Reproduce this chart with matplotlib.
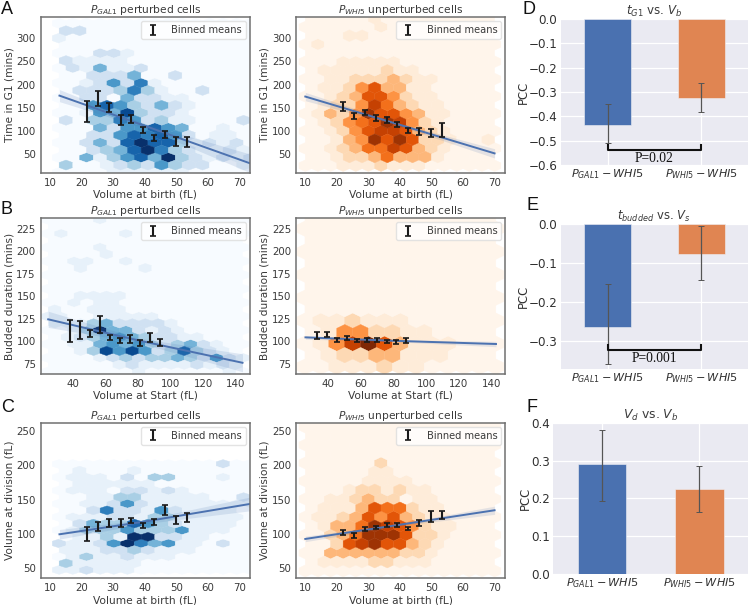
import matplotlib
matplotlib.use('Agg')
import matplotlib.pyplot as plt
import numpy as np

W, H = 748, 605
TEXT = '#3a3a3a'

# hexbin levels, one string per lattice row, top row first. missing cells are 0
hex_a_gal = ["0", "22", "1", "0", "000221", "21111", "021411200", "00222400200",
             "001252610", "02223631002", "002204221100", "00575324210", "001548322100",
             "20336523110002", "000425575400100", "00225767520110", "002427977312120",
             "00234796321121", "004135749321212", "30012325322001", "000011111100000"]
hex_a_whi = ["0", "000001", "0000001", "00011", "01", "0", "0001111100", "011111211",
             "0011222321100000", "011246331100000", "0012366421100000", "012247532110000",
             "0132486643110000", "012456874210000", "0012467763210000", "001348686221001",
             "0012355763210000", "001223533310000", "0001112111000000"]
hex_b_gal = ["00001", "0", "010000100", "0", "00001", "000010", "0011001", "00100001", "0", "0",
             "0", "001111", "00101100", "100111", "1100111110000000", "111342222100000",
             "0013944212100000", "012345432211000", "0011454532342100", "001385852373210",
             "0000123233432521", "000001211112121", "0000000100000010"]
hex_b_whi = ["0", "0", "0", "0", "0", "0", "0", "0", "0", "0",
             "0112111000000", "014422110000", "0147963111000", "012233111000", "0011121100000"]
hex_c_gal = ["000000000000200", "01000100000000", "011102033000100", "01111110000000",
             "011102212100000", "00113311111002", "001125211111111", "00262215211110",
             "011122133111110", "02433753211110", "013335333511100", "01131992211000",
             "211259645110200", "11122321110000", "013112111000000", "31111100000000",
             "112111000000000"]
hex_c_whi = ["0", "0", "0", "0", "0", "0", "0000002", "000001100", "0000011110",
             "000122121100000", "0011232201100000", "011136552110000", "0112364632110000",
             "013358764211000", "0023588862210000", "002678663210000", "0033333322100000",
             "011112211100000", "0"]
# colour strength of each level
level_shade = [0, 0.08, 0.2, 0.34, 0.48, 0.6, 0.7, 0.8, 0.9, 1]

# binned means
bin_birth_gal = [21.7, 25.3, 28.8, 32.4, 35.8, 39.4, 42.9, 46.4, 49.8, 53.3]
bin_birth_whi = [21.8, 25.3, 28.8, 32.3, 35.8, 39.2, 42.7, 46.2, 49.7, 53.2]
bin_start_gal = [38.6, 44.5, 50.6, 56.7, 62.7, 69, 75.1, 81.2, 87.1, 93.3]
bin_start_whi = [33.1, 39.2, 45.3, 51.4, 57.6, 63.7, 69.6, 75.7, 81.6, 87.8]

mean_a_gal = [142.5, 169.5, 150.5, 123.5, 126, 102.5, 85, 92, 76.5, 76.5]
err_a_gal = [22.5, 15.5, 10.5, 10.5, 8, 6.5, 6, 8, 9.5, 10.5]
mean_a_whi = [152.7, 131.4, 139.3, 128, 124, 113.7, 100.8, 98, 95.8, 102.6]
err_a_whi = [9, 6.5, 5.7, 6, 6.5, 4.7, 4.7, 7.6, 9, 15]
mean_b_gal = [111.6, 112.7, 108.8, 118.8, 104.1, 101.2, 102.3, 98.2, 104.5, 98.4]
err_b_gal = [12.1, 9.8, 3.7, 9.3, 2.8, 2.8, 4.6, 3.2, 5, 3.7]
mean_b_whi = [106.2, 107.5, 101.4, 103.6, 100.8, 101.4, 101.4, 99.9, 99, 100.8]
err_b_whi = [3.7, 2.4, 1.9, 2.2, 1.3, 2.6, 1.9, 1.9, 2, 2.4]
mean_c_gal = [99.8, 111.4, 116.3, 115.5, 119.7, 111.9, 117.5, 134.7, 120.1, 124]
err_c_gal = [10, 6.6, 5.6, 5.8, 4.1, 3.6, 4.4, 7, 6, 6]
mean_c_whi = [102.2, 97.8, 107.5, 109.5, 113.1, 112.9, 108.5, 116, 125.7, 127.7]
err_c_whi = [3.6, 3.2, 3.2, 2.2, 2.4, 2.7, 2.2, 4.4, 7.8, 6.3]

# regression fits: x, y, and the half width of the band
fit_a_gal = ([13, 40, 73.4], [176, 111, 30], [13, 5, 20])
fit_a_whi = ([10, 40, 70], [174, 113, 51.4], [9, 3, 10])
fit_b_gal = ([25, 80, 144], [124.4, 101, 76], [9, 2.5, 10])
fit_b_whi = ([26, 80, 142.7], [104.3, 100.5, 96.9], [2, 1, 3])
fit_c_gal = ([13, 40, 73.4], [99.5, 118, 143.7], [7, 3, 10])
fit_c_whi = ([10, 40, 70], [92.7, 113.5, 134.5], [4, 1.5, 6])

# correlation bars
bar_names = ['$P_{GAL1}-WHI5$', '$P_{WHI5}-WHI5$']
pcc_d = [-0.436, -0.325]
pcc_d_low = [-0.508, -0.382]
pcc_d_high = [-0.35, -0.262]
pcc_e = [-0.265, -0.078]
pcc_e_low = [-0.358, -0.143]
pcc_e_high = [-0.153, -0.006]
pcc_f = [0.29, 0.224]
pcc_f_low = [0.193, 0.165]
pcc_f_high = [0.381, 0.286]

fig = plt.figure(figsize=(W / 100, H / 100), dpi=100)


def px_axes(left, top, right, bottom):
    return fig.add_axes([left / W, 1 - bottom / H, (right - left) / W, (bottom - top) / H])


def hex_panel(box, rows, lattice, cmap, fit, bx, means, errs, xlim, ylim, xticks, yticks,
              title, xlabel, ylabel):
    x0, dx, nx, y0, dy, ny = lattice
    xs, ys, cs = [], [], []
    for i, row in enumerate(rows[::-1]):
        n = nx if i % 2 else nx + 1
        row = row.ljust(n, '0')
        for j in range(n):
            xs.append(x0 + (j + 0.5 * (i % 2)) * dx)
            ys.append(y0 + i * dy)
            cs.append(level_shade[int(row[j])])

    ax = px_axes(*box)
    ax.hexbin(xs, ys, C=cs, gridsize=(nx, ny), extent=(x0, x0 + nx * dx, y0, y0 + 2 * ny * dy),
              reduce_C_function=np.mean, cmap=cmap, vmin=0, vmax=1,
              linewidths=0.3, edgecolors='face')
    fx, fy, fw = [np.array(v, dtype=float) for v in fit]
    ax.fill_between(fx, fy - fw, fy + fw, color='#4c72b0', alpha=0.15, lw=0)
    ax.plot(fx, fy, color='#4c72b0', lw=1.4)
    ax.errorbar(bx, means, yerr=errs, fmt='none', ecolor='#1a1a1a', elinewidth=1.5,
                capsize=2.2, capthick=1.2, label='Binned means')
    ax.set_xlim(xlim)
    ax.set_ylim(ylim)
    ax.set_xticks(xticks)
    ax.set_yticks(yticks)
    ax.tick_params(length=0, labelsize=7.4, labelcolor=TEXT, pad=3.5)
    ax.set_title(title, fontsize=7.7, color=TEXT, pad=2.5)
    ax.set_xlabel(xlabel, fontsize=7.7, color=TEXT, labelpad=1.5)
    ax.set_ylabel(ylabel, fontsize=7.7, color=TEXT, labelpad=1.5)
    for s in ax.spines.values():
        s.set_color('#707070')
        s.set_linewidth(1.1)
    ax.legend(loc='upper right', fontsize=7.1, frameon=True, framealpha=0.8, edgecolor='#dddddd',
              labelcolor=TEXT, borderpad=0.4, borderaxespad=0.4, handletextpad=1.0,
              handlelength=1.7, fancybox=True)
    return ax


def bar_panel(box, vals, low, high, ylim, yticks, title, title_size, bracket=None, ptext=None):
    ax = px_axes(*box)
    ax.set_facecolor('#eaeaf2')
    ax.grid(True, color='white', lw=0.9)
    ax.set_axisbelow(True)
    pos = np.arange(len(vals))
    ax.bar(pos, vals, width=0.5, color=['#4a71b0', '#e08552'], edgecolor='#f0f0f5', linewidth=0.4)
    v = np.array(vals)
    yerr = [v - np.array(low), np.array(high) - v]
    ax.errorbar(pos, vals, yerr=yerr, fmt='none', ecolor='#555555', elinewidth=0.9,
                capsize=2.5, capthick=0.7)
    if bracket is not None:
        ax.plot([0, 0, 1, 1], [bracket[0], bracket[1], bracket[1], bracket[0]], color='#111111', lw=1.5)
        ax.text(0.5, bracket[2], ptext, ha='center', va='center', family='Liberation Serif',
                fontsize=9.8, color='#111111')
    ax.set_xlim(-0.5, 1.5)
    ax.set_ylim(ylim)
    ax.set_xticks(pos)
    ax.set_xticklabels(bar_names)
    ax.set_yticks(yticks)
    ax.set_yticklabels([f'{t:.1f}'.replace('-', '\u2212') for t in yticks])
    ax.tick_params(length=0, colors='#303030', pad=2.5)
    ax.tick_params(axis='y', labelsize=8.6)
    ax.tick_params(axis='x', labelsize=8.1, pad=1.5)
    ax.set_title(title, fontsize=title_size, color=TEXT, pad=-0.5)
    ax.set_ylabel('PCC', fontsize=8.4, color='#303030', labelpad=-1)
    for s in ax.spines.values():
        s.set_visible(False)
    return ax


birth_ticks = [10, 20, 30, 40, 50, 60, 70]
start_ticks = [40, 60, 80, 100, 120, 140]
g1_ticks = [50, 100, 150, 200, 250, 300]
bud_ticks = [75, 100, 125, 150, 175, 200, 225]
div_ticks = [50, 100, 150, 200, 250]
t_gal = '$P_{GAL1}$ perturbed cells'
t_whi = '$P_{WHI5}$ unperturbed cells'

hex_panel((40.7, 17.3, 250, 172.7), hex_a_gal, (12.9, 4.33, 14, 10.1, 16.1, 10), 'Blues', fit_a_gal,
          bin_birth_gal, mean_a_gal, err_a_gal, (7.05, 73.4), (9.7, 345), birth_ticks, g1_ticks,
          t_gal, 'Volume at birth (fL)', 'Time in G1 (mins)')
hex_panel((296, 17.3, 505.3, 172.7), hex_a_whi, (10, 4, 15, 24.8, 18.7, 9), 'Oranges', fit_a_whi,
          bin_birth_whi, mean_a_whi, err_a_whi, (7.05, 73.4), (9.7, 345), birth_ticks, g1_ticks,
          t_whi, 'Volume at birth (fL)', 'Time in G1 (mins)')
hex_panel((40.7, 218.3, 250, 374), hex_b_gal, (25, 7.93, 15, 66.1, 7.69, 11), 'Blues', fit_b_gal,
          bin_start_gal, mean_b_gal, err_b_gal, (20.4, 148.6), (63.5, 236.9), start_ticks, bud_ticks,
          t_gal, 'Volume at Start (fL)', 'Budded duration (mins)')
hex_panel((296, 218.3, 505.3, 374), hex_b_whi, (25.7, 9.74, 12, 71.7, 12.8, 7), 'Oranges', fit_b_whi,
          bin_start_whi, mean_b_whi, err_b_whi, (20.2, 148.4), (63.5, 236.9), start_ticks, bud_ticks,
          t_whi, 'Volume at Start (fL)', 'Budded duration (mins)')
hex_panel((40.7, 422.7, 250, 578.3), hex_c_gal, (12.9, 4.33, 14, 47.6, 9.64, 8), 'Blues', fit_c_gal,
          bin_birth_gal, mean_c_gal, err_c_gal, (7.05, 73.4), (35.4, 262), birth_ticks, div_ticks,
          t_gal, 'Volume at birth (fL)', 'Volume at division (fL)')
hex_panel((296, 422.7, 505.3, 578.3), hex_c_whi, (10, 4, 15, 46.1, 13.1, 9), 'Oranges', fit_c_whi,
          bin_birth_whi, mean_c_whi, err_c_whi, (7.05, 73.4), (35.4, 262), birth_ticks, div_ticks,
          t_whi, 'Volume at birth (fL)', 'Volume at division (fL)')

bar_panel((560.7, 19, 748, 165), pcc_d, pcc_d_low, pcc_d_high, (-0.6, 0),
          [0, -0.1, -0.2, -0.3, -0.4, -0.5, -0.6], '$t_{G1}$ vs. $V_b$', 8.6,
          bracket=(-0.518, -0.538, -0.575), ptext='P=0.02')
bar_panel((560.7, 224, 748, 369.3), pcc_e, pcc_e_low, pcc_e_high, (-0.3727, 0),
          [0, -0.1, -0.2, -0.3], '$t_{budded}$ vs. $V_s$', 8.4,
          bracket=(-0.31, -0.323, -0.344), ptext='P=0.001')
bar_panel((553.3, 422.7, 748, 574), pcc_f, pcc_f_low, pcc_f_high, (0, 0.4),
          [0, 0.1, 0.2, 0.3, 0.4], '$V_d$ vs. $V_b$', 8.9)

letters = [('A', 1, 10), ('B', 1, 210), ('C', 1, 408), ('D', 522, 9), ('E', 527, 205), ('F', 526, 407)]
for name, lx, ly in letters:
    fig.text(lx / W, 1 - ly / H, name, fontsize=13, family='Liberation Sans', color='#111111',
             ha='left', va='center')

fig.savefig('out.png', dpi=100)
